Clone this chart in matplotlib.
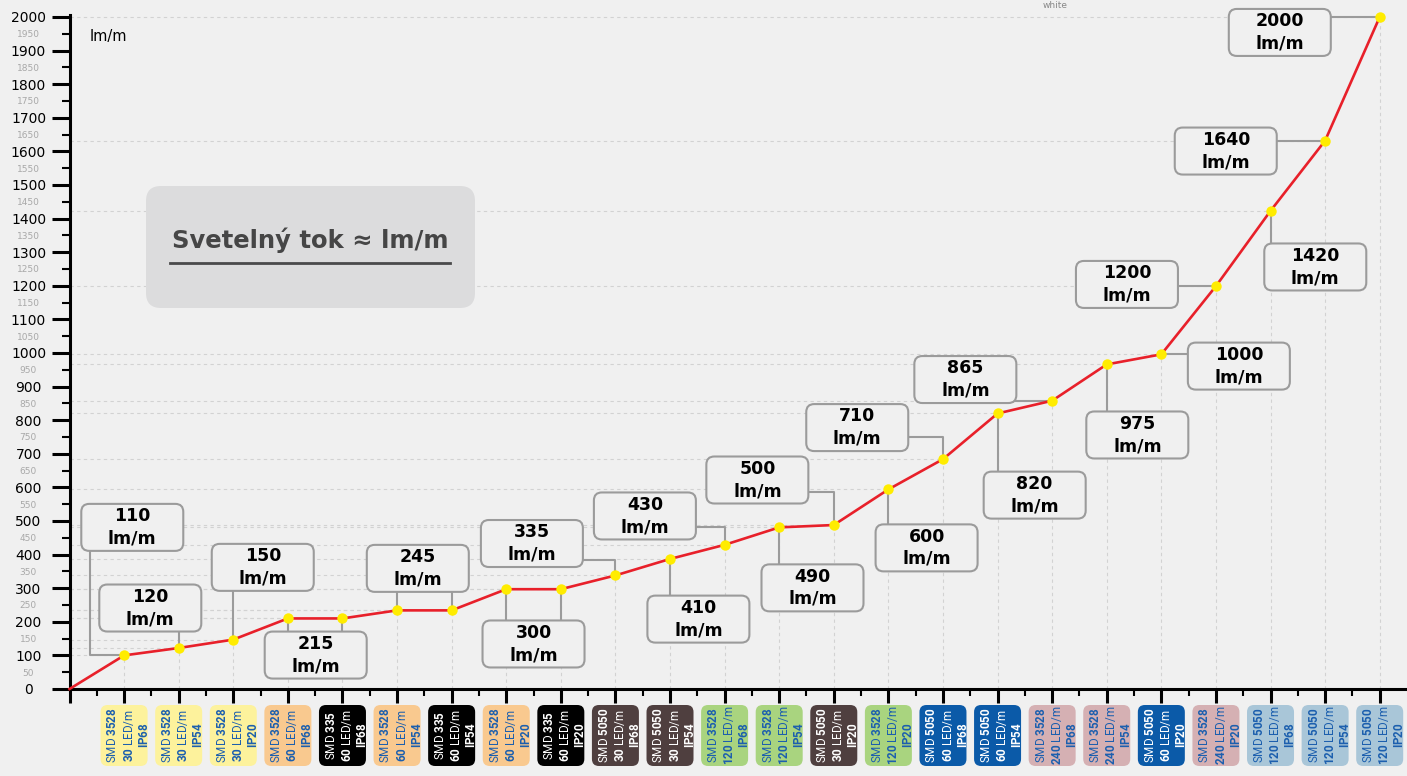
import numpy as np
import matplotlib
matplotlib.use('Agg')
import matplotlib.pyplot as plt
from matplotlib.patches import FancyBboxPatch
from matplotlib.transforms import ScaledTranslation

plt.rcParams['mathtext.fontset'] = 'custom'
plt.rcParams['mathtext.rm'] = 'Roboto'
plt.rcParams['mathtext.bf'] = 'Roboto:bold'

# LED strip types on the x axis
chips = ['3528', '3528', '3528', '3528', '335', '3528', '335', '3528', '335', '5050', '5050', '3528',
         '3528', '5050', '3528', '5050', '5050', '3528', '3528', '5050', '3528', '5050', '5050', '5050']
density = [30, 30, 30, 60, 60, 60, 60, 60, 60, 30, 30, 120,
           120, 30, 120, 60, 60, 240, 240, 60, 240, 120, 120, 120]
ip_class = ['IP68', 'IP54', 'IP20', 'IP68', 'IP68', 'IP54', 'IP54', 'IP20', 'IP20', 'IP68', 'IP54', 'IP68',
            'IP54', 'IP20', 'IP20', 'IP68', 'IP54', 'IP68', 'IP54', 'IP20', 'IP20', 'IP68', 'IP54', 'IP20']

# luminous flux as drawn on the line, and as written in the callouts (lm/m)
flux_drawn = [100, 122, 147, 210, 210, 234, 234, 297, 297, 338, 387, 429,
              481, 488, 594, 684, 820, 858, 966, 996, 1199, 1423, 1632, 2000]
flux_label = [110, 120, 150, 215, 215, 245, 245, 300, 300, 335, 410, 430,
              490, 500, 600, 710, 820, 865, 975, 1000, 1200, 1420, 1640, 2000]

# callouts: point indices (0-based), box centre (x, y in data), connector kind, elbow level
callouts = [
    ([0], 1.15, 481, 'vh', 0.37),
    ([1], 1.48, 241, 'v', None),
    ([2], 3.54, 362, 'v', None),
    ([3, 4], 4.51, 101, 'v', None),
    ([5, 6], 6.38, 359, 'v', None),
    ([7, 8], 8.50, 134, 'v', None),
    ([9], 8.47, 433, 'hv', 384),
    ([10], 11.52, 208, 'v', None),
    ([11], 10.54, 515, 'hv', 482),
    ([12], 13.61, 301, 'v', None),
    ([13], 12.60, 622, 'hv', 586),
    ([14], 15.70, 420, 'v', None),
    ([15], 14.43, 778, 'hv', 750),
    ([16], 17.68, 577, 'v', None),
    ([17], 16.41, 921, 'h', None),
    ([18], 19.56, 756, 'v', None),
    ([19], 21.42, 961, 'h', None),
    ([20], 19.37, 1204, 'h', None),
    ([21], 22.82, 1256, 'v', None),
    ([22], 21.18, 1601, 'h', None),
    ([23], 22.17, 1954, 'h', None),
]

box_colors = {('3528', 30): '#fdf29c', ('3528', 60): '#f9c98f', ('335', 60): '#000000',
              ('5050', 30): '#4f3f3f', ('3528', 120): '#a9d47f', ('5050', 60): '#0b5aa8',
              ('3528', 240): '#d5b0b3', ('5050', 120): '#a9c6d8'}
dark_boxes = {'#000000', '#4f3f3f', '#0b5aa8'}

bg = '#f0f0f0'
fig = plt.figure(figsize=(14.07, 7.76), dpi=100, facecolor=bg)
ax = fig.add_axes([69.5 / 1407, 87 / 776, 1337.5 / 1407, 673.7 / 776])
ax.set_facecolor(bg)

x = np.arange(1, len(flux_drawn) + 1)

# drop lines from each point to both axes
for xi, yi in zip(x, flux_drawn):
    ax.plot([0, xi], [yi, yi], ls=(0, (3, 3)), color='#d2d2d2', lw=0.8, zorder=1)
    ax.plot([xi, xi], [0, yi], ls=(0, (3, 3)), color='#d2d2d2', lw=0.8, zorder=1)

ax.plot(np.r_[0, x], np.r_[0, flux_drawn], color='#e8202a', lw=1.9, zorder=6, clip_on=False)
ax.plot(x, flux_drawn, 'o', color='#ffec00', ms=7.5, mec='none', zorder=7, clip_on=False)

# callout boxes
for idx, bx, by, kind, level in callouts:
    for i in idx:
        px, py = x[i], flux_drawn[i]
        if kind == 'v':
            xs, ys = [px, px], [by, py]
        elif kind == 'h':
            xs, ys = [bx, px], [py, py]
        elif kind == 'hv':
            xs, ys = [bx, px, px], [level, level, py]
        else:
            xs, ys = [level, level, px], [by, py, py]
        ax.plot(xs, ys, color='#9b9b9b', lw=1.5, zorder=2, clip_on=False)
    tr = fig.dpi_scale_trans + ScaledTranslation(bx, by, ax.transData)
    ax.add_patch(FancyBboxPatch((-0.51, -0.235), 1.02, 0.47, boxstyle='round,pad=0,rounding_size=0.08',
                                fc=bg, ec='#9b9b9b', lw=1.5, transform=tr, zorder=3, clip_on=False))
    ax.text(0, 0, f'{flux_label[idx[0]]}\nlm/m', transform=tr, ha='center', va='center',
            fontsize=12.5, fontweight='bold', linespacing=1.3, zorder=4)

# x category labels in coloured boxes
for xi, c, d, ip in zip(x, chips, density, ip_class):
    col = box_colors[(c, d)]
    tcol = 'white' if col in dark_boxes else '#1c5fae'
    tr = fig.dpi_scale_trans + ScaledTranslation(xi, 0, ax.get_xaxis_transform())
    ax.add_patch(FancyBboxPatch((-0.235, -0.77), 0.47, 0.61, boxstyle='round,pad=0,rounding_size=0.07',
                                fc=col, ec='none', transform=tr, clip_on=False))
    ax.text(0.045, -0.465, f'$\\mathrm{{SMD}}$ $\\mathbf{{{c}}}$\n$\\mathbf{{{d}}}$ $\\mathrm{{LED/m}}$\n$\\mathbf{{{ip}}}$',
            transform=tr, rotation=90, ha='center', va='center', multialignment='center',
            fontsize=8.4, family='Roboto', linespacing=1.2, color=tcol)

# axes styling
for s in ['top', 'right']:
    ax.spines[s].set_visible(False)
for s in ['left', 'bottom']:
    ax.spines[s].set_linewidth(2.2)
    ax.spines[s].set_color('black')

ax.set_xticks(np.arange(0, 25))
ax.set_xticks(np.arange(0.5, 24.5, 1), minor=True)
ax.set_xticklabels([])
ax.tick_params(axis='x', which='major', length=10, width=2.2)
ax.tick_params(axis='x', which='minor', length=5, width=1.5)

ax.set_yticks(np.arange(0, 2001, 100))
ax.set_yticklabels([str(v) for v in range(0, 2001, 100)])
ax.set_yticks(np.arange(50, 2000, 100), minor=True)
ax.set_yticklabels([str(v) for v in range(50, 2000, 100)], minor=True)
ax.tick_params(axis='y', which='major', length=13, width=2.2, labelsize=10, pad=16.5)
ax.tick_params(axis='y', which='minor', length=5.8, width=1.5, labelsize=6.5, labelcolor='#a8a8a8', pad=24)
for lbl in ax.get_yticklabels() + ax.get_yticklabels(minor=True):
    lbl.set_ha('center')

ax.set_xlim(0, 24.5)
ax.set_ylim(0, 2005)

# title box and unit text
ftr = fig.dpi_scale_trans
fig.add_artist(FancyBboxPatch((1.46, 4.68), 3.29, 1.22, boxstyle='round,pad=0,rounding_size=0.15',
                              fc='#dcdcdd', ec='none', transform=ftr))
fig.text(3.10, 5.36, 'Svetelný tok ≈ lm/m', transform=ftr, ha='center', va='center',
         fontsize=17.5, fontweight='bold', color='#464646')
fig.add_artist(plt.Line2D([1.70, 4.50], [5.13, 5.13], color='#4a4a4a', lw=2, transform=ftr))
fig.text(0.90, 7.40, 'lm/m', transform=ftr, ha='left', va='center', fontsize=10.5)
fig.text(10.55, 7.75, 'white', transform=ftr, ha='center', va='top', fontsize=6.5, color='#888888')

fig.savefig('out.png', dpi=100, facecolor=bg)
